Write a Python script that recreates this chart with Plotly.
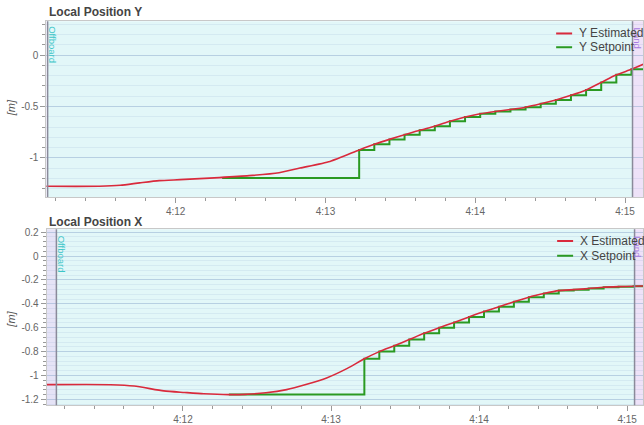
import plotly.graph_objects as go

W, H = 644, 425

# ---------------- data ----------------
tick_vals = [252, 253, 254, 255]
tick_text = ["4:12", "4:13", "4:14", "4:15"]

offboard_t = 251.145
land_t = 255.05

step_t = [253.225, 253.326, 253.427, 253.528, 253.629, 253.730, 253.831, 253.932,
          254.033, 254.134, 254.235, 254.336, 254.437, 254.538, 254.639, 254.740,
          254.841, 254.942, 255.043]

# Local Position Y
y_sp_start_t = 252.31
y_sp_start = -1.195
y_sp_levels = [-0.923, -0.868, -0.820, -0.776, -0.731, -0.692, -0.644, -0.603, -0.570,
               -0.548, -0.529, -0.507, -0.474, -0.436, -0.391, -0.339, -0.266, -0.192, -0.138]
y_est_t_pre = [251.0, 251.49, 251.63, 251.76, 251.89, 252.03, 252.16, 252.29, 252.49,
               252.69, 252.83, 253.03]
y_est_pre = [-1.276, -1.276, -1.267, -1.243, -1.221, -1.212, -1.202, -1.192, -1.173,
             -1.144, -1.099, -1.035]
y_est_end_t = 255.13
y_est_end = -0.085

# Local Position X
x_sp_start_t = 252.31
x_sp_start = -1.160
x_sp_levels = [-0.860, -0.800, -0.751, -0.699, -0.647, -0.600, -0.556, -0.510, -0.465,
               -0.425, -0.383, -0.344, -0.314, -0.289, -0.281, -0.272, -0.261, -0.256, -0.253]
x_est_t_pre = [251.0, 251.51, 251.67, 251.87, 252.01, 252.14, 252.31, 252.42, 252.56,
               252.70, 252.83, 252.97, 253.11]
x_est_pre = [-1.077, -1.077, -1.088, -1.129, -1.142, -1.153, -1.160, -1.158, -1.145,
             -1.118, -1.075, -1.020, -0.940]
x_est_end_t = 255.13
x_est_end = -0.250

# ---------------- styling ----------------
RED = "#d92a3c"
GREEN = "#2a9a22"
CYAN_BG = "#e2f7f8"
LEFT_BG = "#e5e3f6"
LAND_BG = "#eee2f8"
FONT = "Liberation Sans, Arial, sans-serif"

def px_x(p):
    return p / W

def px_y(p):
    return 1 - p / H

panels = [
    dict(x="x", y="y", xdom=[46.5 / W, 1.0], ydom=[px_y(198.3), px_y(19.5)],
         xr=[251.137, 255.12], yr=[-1.381, 0.33],
         ytv=[0, -0.5, -1], ytt=["0", "-0.5", "-1"], ymin=0.1,
         title="Local Position Y", title_y=10, ylab_y=107,
         names=("Y Estimated", "Y Setpoint"),
         leg_y=(32, 46), leg_x=557, off_lab=(53, 23), land_lab=(638.5, 24)),
    dict(x="x2", y="y2", xdom=[46.7 / W, 1.0], ydom=[px_y(410), px_y(231)],
         xr=[251.079, 255.107], yr=[-1.249, 0.225],
         ytv=[0.2, 0, -0.2, -0.4, -0.6, -0.8, -1, -1.2],
         ytt=["0.2", "0", "-0.2", "-0.4", "-0.6", "-0.8", "-1", "-1.2"], ymin=0.04,
         title="Local Position X", title_y=224, ylab_y=322,
         names=("X Estimated", "X Setpoint"),
         leg_y=(243, 258), leg_x=558, off_lab=(61, 236), land_lab=(638.5, 236)),
]

fig = go.Figure()

series = [
    (y_est_t_pre + step_t + [y_est_end_t], y_est_pre + y_sp_levels + [y_est_end],
     [y_sp_start_t] + step_t + [255.3], [y_sp_start] + y_sp_levels + [y_sp_levels[-1]]),
    (x_est_t_pre + step_t + [x_est_end_t], x_est_pre + x_sp_levels + [x_est_end],
     [x_sp_start_t] + step_t + [255.3], [x_sp_start] + x_sp_levels + [x_sp_levels[-1]]),
]

shapes = []
annotations = []
for p, (et, ev, st, sv) in zip(panels, series):
    fig.add_trace(go.Scatter(x=st, y=sv, xaxis=p["x"], yaxis=p["y"], mode="lines",
                             line=dict(color=GREEN, width=2, shape="hv"),
                             name=p["names"][1], showlegend=False))
    fig.add_trace(go.Scatter(x=et, y=ev, xaxis=p["x"], yaxis=p["y"], mode="lines",
                             line=dict(color=RED, width=1.6, shape="spline", smoothing=0.6),
                             name=p["names"][0], showlegend=False))
    ydref = p["y"] + " domain"
    # flight mode backgrounds
    for x0, x1, c in [(p["xr"][0] - 1, offboard_t, LEFT_BG),
                      (offboard_t, land_t, CYAN_BG),
                      (land_t, p["xr"][1] + 1, LAND_BG)]:
        shapes.append(dict(type="rect", xref=p["x"], yref=ydref, x0=x0, x1=x1, y0=0, y1=1,
                           fillcolor=c, line=dict(width=0), layer="below"))
    for xv in (offboard_t, land_t):
        shapes.append(dict(type="line", xref=p["x"], yref=ydref, x0=xv, x1=xv, y0=0, y1=1,
                           line=dict(color="#8a8a9a", width=1.5), layer="above"))
    # mode labels
    annotations.append(dict(text="Offboard", x=px_x(p["off_lab"][0]), y=px_y(p["off_lab"][1]),
                            xref="paper", yref="paper", xanchor="center", yanchor="top",
                            textangle=90, showarrow=False,
                            font=dict(family=FONT, size=9.5, color="#3cc6c8")))
    annotations.append(dict(text="Land", x=px_x(p["land_lab"][0]), y=px_y(p["land_lab"][1]),
                            xref="paper", yref="paper", xanchor="center", yanchor="top",
                            textangle=90, showarrow=False,
                            font=dict(family=FONT, size=9.5, color="#a77be0")))
    # titles
    annotations.append(dict(text="<b>" + p["title"] + "</b>", x=px_x(47), y=px_y(p["title_y"]),
                            xref="paper", yref="paper", xanchor="left", yanchor="middle",
                            showarrow=False, font=dict(family=FONT, size=12, color="#444")))
    annotations.append(dict(text="<i>[m]</i>", x=px_x(11), y=px_y(p["ylab_y"]),
                            xref="paper", yref="paper", xanchor="center", yanchor="middle",
                            textangle=-90, showarrow=False,
                            font=dict(family=FONT, size=11, color="#555")))
    # legend
    for i, (nm, col) in enumerate([(p["names"][0], RED), (p["names"][1], GREEN)]):
        ly = p["leg_y"][i]
        shapes.append(dict(type="line", xref="paper", yref="paper",
                           x0=px_x(p["leg_x"]), x1=px_x(p["leg_x"] + 16),
                           y0=px_y(ly), y1=px_y(ly), line=dict(color=col, width=2)))
        annotations.append(dict(text=nm, x=px_x(p["leg_x"] + 21), y=px_y(ly),
                                xref="paper", yref="paper", xanchor="left", yanchor="middle",
                                showarrow=False, font=dict(family=FONT, size=12, color="#444")))

    xa = dict(domain=p["xdom"], range=p["xr"], anchor=p["y"],
              tickmode="array", tickvals=tick_vals, ticktext=tick_text,
              ticks="outside", ticklen=5, tickcolor="#999", showgrid=False, zeroline=False,
              showline=True, linecolor="#c8c8c8", linewidth=1, mirror=True,
              tickfont=dict(family=FONT, size=10, color="#666"),
              minor=dict(tick0=252, dtick=0.2, ticks="outside", ticklen=3, tickcolor="#999",
                         showgrid=False))
    ya = dict(domain=p["ydom"], range=p["yr"], anchor=p["x"],
              tickmode="array", tickvals=p["ytv"], ticktext=p["ytt"],
              ticks="outside", ticklen=5, tickcolor="#999", showgrid=True,
              gridcolor="rgba(140,170,205,0.4)", gridwidth=1, zeroline=False,
              showline=True, linecolor="#c8c8c8", linewidth=1, mirror=True,
              tickfont=dict(family=FONT, size=10, color="#666"),
              minor=dict(tick0=0, dtick=p["ymin"], ticks="outside", ticklen=3, tickcolor="#999",
                         showgrid=True, gridcolor="rgba(140,170,205,0.16)", gridwidth=1))
    key = "" if p["x"] == "x" else "2"
    fig.update_layout(**{"xaxis" + key: xa, "yaxis" + key: ya})

fig.update_layout(width=W, height=H, margin=dict(l=0, r=0, t=0, b=0),
                  paper_bgcolor="white", plot_bgcolor="white",
                  shapes=shapes, annotations=annotations, showlegend=False,
                  font=dict(family=FONT))

fig.write_html("out.html", config={"displayModeBar": False},
               post_script="document.body.style.margin='0';document.body.style.padding='0';")
